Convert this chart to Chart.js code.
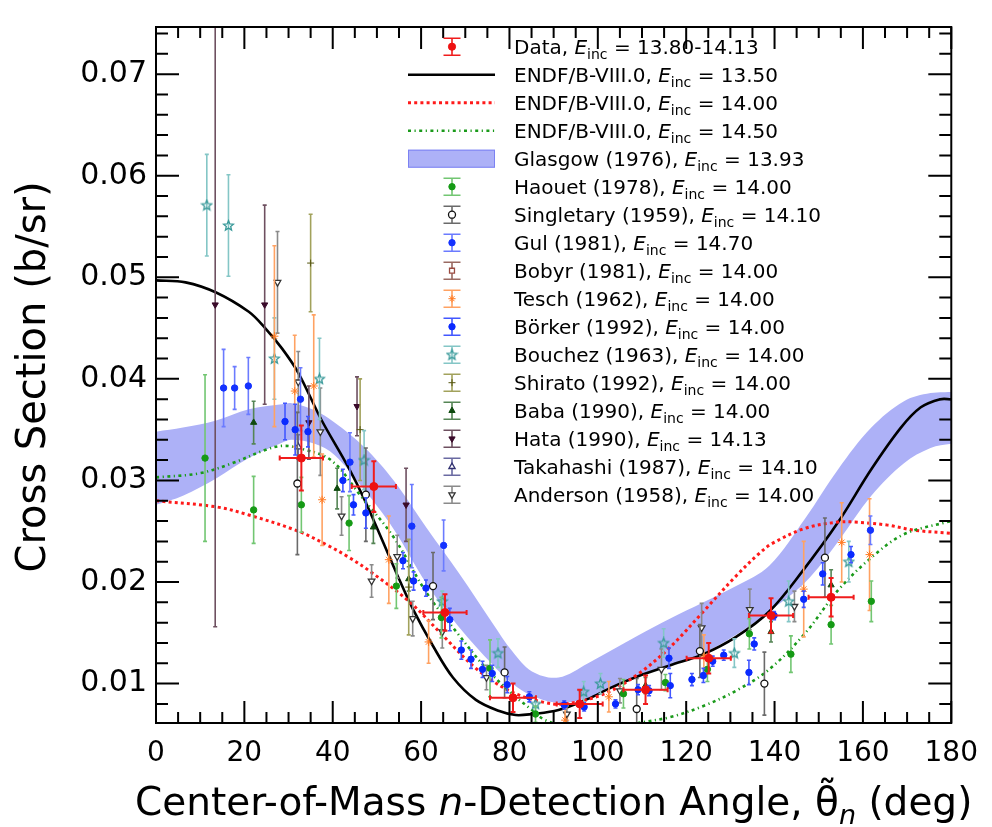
<!DOCTYPE html>
<html>
<head>
<meta charset="utf-8">
<title>n-d elastic cross section</title>
<script src="https://cdn.jsdelivr.net/npm/chart.js@4.4.0/dist/chart.umd.min.js"></script>
<style>
  html, body { margin: 0; background: #fff; }
  #wrap { position: relative; width: 992px; height: 827px; }
</style>
</head>
<body>
<div id="wrap"><canvas id="c" width="992" height="827"></canvas></div>
<script>
// axis ticks
const xTicks = [0, 20, 40, 60, 80, 100, 120, 140, 160, 180];
const yTicks = [0.01, 0.02, 0.03, 0.04, 0.05, 0.06, 0.07];

// ENDF/B-VIII.0 curves
const endf1350X = [0, 6.7, 13.6, 21, 24.7, 28.5, 32.2, 37.4, 43.4, 47.3, 54.6, 58.3, 62.7, 67.2, 72.4, 77.7, 81.4, 85.1, 91.1, 97.8, 103, 109, 116.4, 123.9, 131.3, 138.8, 146.2, 154.4, 161.9, 168.6, 173.1, 177.5, 180];
const endf1350Y = [0.0497, 0.0495, 0.0485, 0.0466, 0.0450, 0.0430, 0.0406, 0.0360, 0.0314, 0.0280, 0.0207, 0.0172, 0.0137, 0.0106, 0.0084, 0.0073, 0.0069, 0.0070, 0.0074, 0.0085, 0.0096, 0.0107, 0.0118, 0.0129, 0.0146, 0.0171, 0.0210, 0.0259, 0.0311, 0.0352, 0.0372, 0.0380, 0.0380];
const endf1400X = [0, 13.6, 21, 32.2, 38.9, 43.4, 48.6, 57.5, 65, 72.4, 79.9, 87.3, 92.6, 101.5, 109, 116.4, 123.9, 131.3, 136.5, 139.5, 147, 154.4, 158.2, 165.6, 171.6, 180];
const endf1400Y = [0.0280, 0.0274, 0.0266, 0.0250, 0.0236, 0.0225, 0.0210, 0.0180, 0.0147, 0.0115, 0.0093, 0.0082, 0.0080, 0.0090, 0.0109, 0.0136, 0.0171, 0.0206, 0.0228, 0.0238, 0.0253, 0.0259, 0.0259, 0.0256, 0.0251, 0.0248];
const endf1450X = [0, 9.8, 17.3, 24.7, 28.5, 32.2, 39.6, 46.3, 53.8, 61.3, 68.7, 74.7, 80.6, 85.1, 88.1, 95, 100, 105, 109, 116.4, 123.9, 131.3, 138.8, 147, 154.4, 161.9, 169.3, 179, 180];
const endf1450Y = [0.0303, 0.0307, 0.0317, 0.0330, 0.0334, 0.0332, 0.0320, 0.0285, 0.0244, 0.0189, 0.0147, 0.0115, 0.0090, 0.0074, 0.0064, 0.0055, 0.0054, 0.0056, 0.0061, 0.0067, 0.0078, 0.0093, 0.0114, 0.0150, 0.0192, 0.0224, 0.0247, 0.0259, 0.0260];

// Glasgow (1976) band
const bandX  = [0, 6.1, 13.6, 21, 28.5, 30.7, 35.9, 40.4, 47.1, 53.8, 61.3, 68.7, 76.1, 80.6, 85.1, 91.1, 97.8, 109, 116.4, 123.9, 131.3, 138.8, 147, 154.4, 161.9, 169.3, 175.3, 180];
const bandHi = [0.0348, 0.0352, 0.0359, 0.0370, 0.0375, 0.0376, 0.0369, 0.0357, 0.0333, 0.0300, 0.0253, 0.0208, 0.0160, 0.0132, 0.0112, 0.0106, 0.0120, 0.0147, 0.0164, 0.0180, 0.0196, 0.0216, 0.0263, 0.0311, 0.0352, 0.0378, 0.0386, 0.0387];
const bandLo = [0.0276, 0.0285, 0.0302, 0.0322, 0.0337, 0.0340, 0.0336, 0.0325, 0.0291, 0.0252, 0.0198, 0.0155, 0.0119, 0.0100, 0.0088, 0.0081, 0.0086, 0.0107, 0.0118, 0.0130, 0.0148, 0.0171, 0.0200, 0.0240, 0.0285, 0.0317, 0.0332, 0.0336];

// measurements
const dataX  = [32.9, 49.3, 65.4, 80.8, 95.9, 110.8, 125.1, 139.2, 152.8];
const dataY  = [0.0322, 0.0294, 0.0170, 0.0086, 0.0080, 0.0094, 0.0125, 0.0167, 0.0185];
const dataEY = [0.0032, 0.0025, 0.0018, 0.0014, 0.0014, 0.0014, 0.0015, 0.0017, 0.0019];
const dataEX = [4.9, 5.0, 4.9, 5.2, 5.2, 5.0, 5.0, 5.0, 5.1];

const haouetX = [11.1, 22.1, 32.9, 43.7, 54.4, 64.6, 75.6, 85.9, 105.8, 115.3, 124.8, 134.3, 143.7, 152.8, 161.9];
const haouetY = [0.0322, 0.0271, 0.0276, 0.0258, 0.0196, 0.0165, 0.0115, 0.0070, 0.0090, 0.0101, 0.0114, 0.0149, 0.0129, 0.0158, 0.0181];
const haouetE = [0.0082, 0.0033, 0.0027, 0.0027, 0.0022, 0.0020, 0.0028, 0.0008, 0.0014, 0.0008, 0.0012, 0.0015, 0.0018, 0.0019, 0.0020];

const singletaryX = [32.0, 47.5, 62.7, 78.9, 108.8, 123.1, 137.7, 151.4];
const singletaryY = [0.0297, 0.0286, 0.0196, 0.0111, 0.0075, 0.0132, 0.0100, 0.0224];
const singletaryE = [0.0070, 0.0046, 0.0033, 0.0025, 0.0030, 0.0026, 0.0031, 0.0039];

const gulX = [15.3, 17.8, 20.9, 32.7, 43.9, 57.9, 65.1, 161.7];
const gulY = [0.0391, 0.0391, 0.0393, 0.0380, 0.0318, 0.0255, 0.0236, 0.0251];
const gulE = [0.0038, 0.0021, 0.0028, 0.0031, 0.0029, 0.0041, 0.0025, 0.0014];

const bobyrX = [];
const bobyrY = [];
const bobyrE = [];

const teschX = [26.8, 31.4, 35.7, 37.6, 52.7, 61.7, 92.6, 102.5, 124.0, 146.6, 155.2, 161.5];
const teschY = [0.0442, 0.0388, 0.0393, 0.0281, 0.0222, 0.0141, 0.0064, 0.0087, 0.0127, 0.0193, 0.0239, 0.0227];
const teschE = [0.0089, 0.0055, 0.0070, 0.0045, 0.0043, 0.0021, 0.0012, 0.0015, 0.0021, 0.0047, 0.0039, 0.0055];

const borkerX = [29.2, 31.5, 34.4, 42.3, 44.7, 47.5, 55.9, 58.3, 61.1, 66.5, 69.1, 71.3, 73.9, 76.1, 79.5, 84.5, 92.4, 96.9, 104.0, 109.1, 111.6, 116.1, 116.4, 121.3, 123.9, 126.0, 128.5, 134.2, 135.4, 139.9, 146.6, 150.9, 157.3];
const borkerY = [0.0358, 0.0350, 0.0348, 0.0300, 0.0276, 0.0268, 0.0221, 0.0201, 0.0194, 0.0163, 0.0133, 0.0124, 0.0114, 0.0110, 0.0099, 0.0087, 0.0079, 0.0077, 0.0080, 0.0094, 0.0093, 0.0125, 0.0098, 0.0104, 0.0108, 0.0122, 0.0128, 0.0111, 0.0139, 0.0167, 0.0183, 0.0208, 0.0227];
const borkerE = [0.0018, 0.0025, 0.0015, 0.0011, 0.0010, 0.0015, 0.0008, 0.0009, 0.0008, 0.0011, 0.0009, 0.0009, 0.0008, 0.0008, 0.0008, 0.0005, 0.0004, 0.0004, 0.0004, 0.0005, 0.0005, 0.0010, 0.0012, 0.0006, 0.0007, 0.0005, 0.0005, 0.0012, 0.0006, 0.0004, 0.0008, 0.0011, 0.0008];

const bouchezX = [11.5, 16.4, 26.8, 37.0, 47.1, 64.8, 77.4, 85.9, 96.8, 100.6, 114.9, 130.9, 143.2, 156.8];
const bouchezY = [0.0571, 0.0551, 0.0420, 0.0400, 0.0320, 0.0181, 0.0130, 0.0080, 0.0092, 0.0100, 0.0140, 0.0130, 0.0181, 0.0220];
const bouchezE = [0.0050, 0.0050, 0.0040, 0.0040, 0.0029, 0.0010, 0.0014, 0.0007, 0.0010, 0.0010, 0.0014, 0.0014, 0.0020, 0.0020];

const shiratoX = [35.0, 46.2, 57.2];
const shiratoY = [0.0514, 0.0350, 0.0195];
const shiratoE = [0.0048, 0.0050, 0.0047];

const babaX = [22.1, 41.0, 49.2, 57.2, 110.8, 139.2, 152.8];
const babaY = [0.0357, 0.0292, 0.0254, 0.0203, 0.0098, 0.0151, 0.0197];
const babaE = [0.0021, 0.0020, 0.0016, 0.0012, 0.0008, 0.0010, 0.0015];

const hataX = [13.4, 24.6, 34.6, 45.5, 56.6];
const hataY = [0.0473, 0.0473, 0.0357, 0.0373, 0.0276];
const hataE = [0.0317, 0.0098, 0.0036, 0.0029, 0.0036];

const takahashiX = [32.2];
const takahashiY = [0.0333];
const takahashiE = [0.0012];

const andersonX = [27.5, 32.2, 37.2, 42.0, 48.8, 54.6, 58.1, 64.8, 74.8, 93.0, 105.0, 114.4, 123.5, 134.4, 144.5];
const andersonY = [0.0495, 0.0397, 0.0348, 0.0265, 0.0201, 0.0225, 0.0164, 0.0151, 0.0106, 0.0070, 0.0093, 0.0114, 0.0155, 0.0173, 0.0176];
const andersonE = [0.0050, 0.0030, 0.0043, 0.0019, 0.0016, 0.0021, 0.0017, 0.0016, 0.0012, 0.0008, 0.0012, 0.0020, 0.0024, 0.0020, 0.0015];

const FONT = "'DejaVu Sans', 'Liberation Sans', sans-serif";
const BAND_FILL = '#adb1f7';

const pts = (xs, ys, ey, ex) => xs.map((x, i) => ({ x: x, y: ys[i], ey: ey ? ey[i] : 0, ex: ex ? ex[i] : 0 }));

// open five-point star marker (Bouchez)
function openStar(color) {
  const c = document.createElement('canvas');
  c.width = 13; c.height = 13;
  const g = c.getContext('2d');
  g.strokeStyle = color; g.lineWidth = 1.3;
  g.beginPath();
  for (let k = 0; k < 10; k++) {
    const r = k % 2 ? 2.3 : 5.2;
    const a = -Math.PI / 2 + k * Math.PI / 5;
    const px = 6.5 + r * Math.cos(a), py = 6.8 + r * Math.sin(a);
    k ? g.lineTo(px, py) : g.moveTo(px, py);
  }
  g.closePath(); g.stroke();
  return c;
}

const markers = [
  { name: 'Data', e: '13.80-14.13', d: pts(dataX, dataY, dataEY, dataEX), style: 'circle', r: 4, fg: '#ee1111', bg: '#ee1111', bar: '#f01c1c', lw: 2, cap: 2.5, order: 0 },
  { name: 'Haouet (1978)', e: '14.00', d: pts(haouetX, haouetY, haouetE), style: 'circle', r: 3.2, fg: '#159a15', bg: '#159a15', bar: '#72c672', lw: 1.6, cap: 2, order: 5 },
  { name: 'Singletary (1959)', e: '14.10', d: pts(singletaryX, singletaryY, singletaryE), style: 'circle', r: 3.5, fg: '#111111', bg: '#ffffff', bar: '#6a6a6a', lw: 1.6, cap: 2, order: 4 },
  { name: 'Gul (1981)', e: '14.70', d: pts(gulX, gulY, gulE), style: 'circle', r: 3.2, fg: '#1432ff', bg: '#1432ff', bar: '#6b7bff', lw: 1.6, cap: 2, order: 3 },
  { name: 'Bobyr (1981)', e: '14.00', d: pts(bobyrX, bobyrY, bobyrE), style: 'rect', r: 3.5, fg: '#9a4a40', bg: '#ffffff', bar: '#9a6a62', lw: 1.6, cap: 2, order: 6 },
  { name: 'Tesch (1962)', e: '14.00', d: pts(teschX, teschY, teschE), style: 'star', r: 4, fg: '#ff7a22', bg: '#ff7a22', bar: '#ffa262', lw: 1.6, cap: 2, order: 7 },
  { name: 'B\u00f6rker (1992)', e: '14.00', d: pts(borkerX, borkerY, borkerE), style: 'circle', r: 3.2, fg: '#0a2aff', bg: '#0a2aff', bar: '#4257ff', lw: 1.6, cap: 2, order: 2 },
  { name: 'Bouchez (1963)', e: '14.00', d: pts(bouchezX, bouchezY, bouchezE), style: openStar('#3a9a9a'), r: 5, fg: '#3a9a9a', bg: '#3a9a9a', bar: '#84c6c6', lw: 1.6, cap: 2, order: 8 },
  { name: 'Shirato (1992)', e: '14.00', d: pts(shiratoX, shiratoY, shiratoE), style: 'cross', r: 3.5, fg: '#555510', bg: '#555510', bar: '#a2a25c', lw: 1.6, cap: 2, order: 9 },
  { name: 'Baba (1990)', e: '14.00', d: pts(babaX, babaY, babaE), style: 'triangle', r: 3.6, fg: '#0f4a0f', bg: '#0f4a0f', bar: '#558555', lw: 1.6, cap: 2, order: 10 },
  { name: 'Hata (1990)', e: '14.13', d: pts(hataX, hataY, hataE), style: 'triangle', rot: 180, r: 3.6, fg: '#3a0a2a', bg: '#3a0a2a', bar: '#6e5060', lw: 1.6, cap: 2, order: 11 },
  { name: 'Takahashi (1987)', e: '14.10', d: pts(takahashiX, takahashiY, takahashiE), style: 'triangle', r: 3.8, fg: '#303070', bg: '#ffffff', bar: '#6a6aa2', lw: 1.6, cap: 2, order: 12 },
  { name: 'Anderson (1958)', e: '14.00', d: pts(andersonX, andersonY, andersonE), style: 'triangle', rot: 180, r: 3.8, fg: '#333333', bg: '#ffffff', bar: '#8a8a8a', lw: 1.6, cap: 2, order: 13 }
];

const curves = [
  { name: 'ENDF/B-VIII.0', e: '13.50', d: pts(endf1350X, endf1350Y), color: '#000000', width: 2.6, dash: [] },
  { name: 'ENDF/B-VIII.0', e: '14.00', d: pts(endf1400X, endf1400Y), color: '#ff1a1a', width: 3, dash: [3, 3.2] },
  { name: 'ENDF/B-VIII.0', e: '14.50', d: pts(endf1450X, endf1450Y), color: '#1a9a1a', width: 2.6, dash: [3, 3.5, 1.2, 3.5] }
];

const legendItems = [
  { kind: 'marker', s: markers[0] },
  { kind: 'line', s: curves[0] },
  { kind: 'line', s: curves[1] },
  { kind: 'line', s: curves[2] },
  { kind: 'band', s: { name: 'Glasgow (1976)', e: '13.93' } }
].concat(markers.slice(1).map(m => ({ kind: 'marker', s: m })));

const TENSION = 0.35;
const datasets = [
  { data: pts(bandX, bandLo), showLine: true, pointRadius: 0, borderWidth: 0, borderColor: 'rgba(0,0,0,0)', fill: false, tension: TENSION, order: 31 },
  { data: pts(bandX, bandHi), showLine: true, pointRadius: 0, borderWidth: 0, borderColor: 'rgba(0,0,0,0)', backgroundColor: BAND_FILL, fill: { target: 0 }, tension: TENSION, order: 30 }
];
curves.forEach((c, i) => datasets.push({
  data: c.d, showLine: true, pointRadius: 0, borderColor: c.color, borderWidth: c.width,
  borderDash: c.dash, borderCapStyle: 'butt', fill: false, tension: TENSION, order: 22 - i
}));
markers.forEach(m => datasets.push({
  data: m.d, showLine: false, pointStyle: m.style, pointRadius: m.r, pointRotation: m.rot || 0,
  pointBackgroundColor: m.bg, pointBorderColor: m.fg, pointBorderWidth: m.bg === '#ffffff' ? 1.3 : 1,
  bar: m.bar, barWidth: m.lw, cap: m.cap, order: m.order
}));

const errorBars = {
  id: 'errorBars',
  beforeDatasetDraw(chart, args) {
    const ds = chart.data.datasets[args.index];
    if (!ds.bar) return;
    const { ctx, chartArea: a, scales: { x, y } } = chart;
    ctx.save();
    ctx.beginPath();
    ctx.rect(a.left, a.top, a.right - a.left, a.bottom - a.top);
    ctx.clip();
    ctx.strokeStyle = ds.bar;
    ctx.lineWidth = ds.barWidth;
    ds.data.forEach(p => {
      const px = x.getPixelForValue(p.x), py = y.getPixelForValue(p.y);
      const y1 = y.getPixelForValue(p.y + p.ey), y2 = y.getPixelForValue(p.y - p.ey);
      ctx.beginPath();
      ctx.moveTo(px, y1); ctx.lineTo(px, y2);
      ctx.moveTo(px - ds.cap, y1); ctx.lineTo(px + ds.cap, y1);
      ctx.moveTo(px - ds.cap, y2); ctx.lineTo(px + ds.cap, y2);
      if (p.ex) {
        const x1 = x.getPixelForValue(p.x - p.ex), x2 = x.getPixelForValue(p.x + p.ex);
        ctx.moveTo(x1, py); ctx.lineTo(x2, py);
        ctx.moveTo(x1, py - ds.cap); ctx.lineTo(x1, py + ds.cap);
        ctx.moveTo(x2, py - ds.cap); ctx.lineTo(x2, py + ds.cap);
      }
      ctx.stroke();
    });
    ctx.restore();
  }
};

// frame with inward ticks on all four sides
const frame = {
  id: 'frame',
  afterDatasetsDraw(chart) {
    const { ctx, chartArea: a, scales: { x, y } } = chart;
    ctx.save();
    ctx.strokeStyle = '#000';
    ctx.lineWidth = 2;
    ctx.beginPath();
    for (let d = 0; d <= 180; d += 5) {
      const px = x.getPixelForValue(d);
      const len = d % 20 === 0 ? 22 : 11;
      ctx.moveTo(px, a.bottom); ctx.lineTo(px, a.bottom - len);
      ctx.moveTo(px, a.top); ctx.lineTo(px, a.top + len);
    }
    for (let k = 4; k <= 37; k++) {
      const v = k * 0.002;
      if (v < y.min || v > y.max) continue;
      const py = y.getPixelForValue(v);
      const len = k % 5 === 0 ? 23 : 12;
      ctx.moveTo(a.left, py); ctx.lineTo(a.left + len, py);
      ctx.moveTo(a.right, py); ctx.lineTo(a.right - len, py);
    }
    ctx.stroke();
    ctx.strokeRect(a.left, a.top, a.right - a.left, a.bottom - a.top);
    ctx.restore();
  }
};

function richText(ctx, x, y, parts, align) {
  let w = 0;
  parts.forEach(p => { ctx.font = p.font; p.w = ctx.measureText(p.t).width; w += p.w; });
  let cx = align === 'center' ? x - w / 2 : x;
  parts.forEach(p => {
    ctx.font = p.font;
    ctx.fillText(p.t, cx, y + (p.dy || 0));
    cx += p.w;
  });
}

function energyParts(name, e, size) {
  return [
    { t: name + ', ', font: size + 'px ' + FONT },
    { t: 'E', font: 'italic ' + size + 'px ' + FONT },
    { t: 'inc', font: Math.round(size * 0.7) + 'px ' + FONT, dy: 5 },
    { t: ' = ' + e, font: size + 'px ' + FONT }
  ];
}

const annotations = {
  id: 'annotations',
  afterDraw(chart) {
    const { ctx, chartArea: a } = chart;
    ctx.save();
    ctx.fillStyle = '#000';
    ctx.textBaseline = 'alphabetic';
    ctx.textAlign = 'left';

    // legend
    const lx0 = 408, lx1 = 495, lxm = 452, ltx = 514, ly0 = 46.7, ldy = 28;
    legendItems.forEach((it, i) => {
      const cy = ly0 + i * ldy;
      const s = it.s;
      if (it.kind === 'line') {
        ctx.save();
        ctx.strokeStyle = s.color; ctx.lineWidth = s.width; ctx.setLineDash(s.dash); ctx.lineCap = 'butt';
        ctx.beginPath(); ctx.moveTo(lx0, cy); ctx.lineTo(lx1, cy); ctx.stroke();
        ctx.restore();
      } else if (it.kind === 'band') {
        ctx.fillStyle = BAND_FILL;
        ctx.fillRect(lx0, cy - 9, lx1 - lx0, 18);
        ctx.strokeStyle = '#7c82f2'; ctx.lineWidth = 1;
        ctx.strokeRect(lx0 + 0.5, cy - 8.5, lx1 - lx0 - 1, 17);
      } else {
        ctx.strokeStyle = s.bar; ctx.lineWidth = 1.6;
        ctx.beginPath();
        ctx.moveTo(lxm, cy - 8.5); ctx.lineTo(lxm, cy + 8.5);
        ctx.moveTo(lxm - 8.5, cy - 8.5); ctx.lineTo(lxm + 8.5, cy - 8.5);
        ctx.moveTo(lxm - 8.5, cy + 8.5); ctx.lineTo(lxm + 8.5, cy + 8.5);
        ctx.stroke();
        ctx.fillStyle = s.bg; ctx.strokeStyle = s.fg; ctx.lineWidth = s.bg === '#ffffff' ? 1.3 : 1;
        Chart.helpers.drawPoint(ctx, { pointStyle: s.style, radius: Math.min(s.r, 3.6), rotation: s.rot || 0, borderWidth: ctx.lineWidth }, lxm, cy);
      }
      ctx.fillStyle = '#000';
      richText(ctx, ltx, cy + 7.3, energyParts(s.name, s.e, 20));
    });

    // x-axis title
    const cxm = (a.left + a.right) / 2;
    const fs = 39;
    richText(ctx, cxm, 815, [
      { t: 'Center-of-Mass ', font: fs + 'px ' + FONT },
      { t: 'n', font: 'italic ' + fs + 'px ' + FONT },
      { t: '-Detection Angle, ', font: fs + 'px ' + FONT },
      { t: '\u03b8\u0303', font: fs + 'px ' + FONT },
      { t: 'n', font: 'italic ' + Math.round(fs * 0.7) + 'px ' + FONT, dy: 9 },
      { t: ' (deg)', font: fs + 'px ' + FONT }
    ], 'center');

    // y-axis title
    ctx.translate(45, (a.top + a.bottom) / 2 + 2);
    ctx.rotate(-Math.PI / 2);
    ctx.textAlign = 'center';
    ctx.font = '40px ' + FONT;
    ctx.fillText('Cross Section (b/sr)', 0, 0);
    ctx.restore();
  }
};

new Chart(document.getElementById('c'), {
  type: 'scatter',
  data: { datasets: datasets },
  options: {
    responsive: false,
    animation: false,
    devicePixelRatio: 1,
    events: [],
    layout: { padding: { top: 10, right: 31, left: 0, bottom: 0 } },
    plugins: { legend: { display: false }, tooltip: { enabled: false } },
    scales: {
      x: {
        type: 'linear', min: 0, max: 180,
        grid: { display: false, drawTicks: false },
        border: { display: false },
        afterBuildTicks: s => { s.ticks = xTicks.map(v => ({ value: v })); },
        afterFit: s => { s.height = 104; },
        ticks: { color: '#000', font: { family: FONT, size: 28 }, padding: 14, maxRotation: 0, autoSkip: false }
      },
      y: {
        type: 'linear', min: 0.00612, max: 0.07464,
        grid: { display: false, drawTicks: false },
        border: { display: false },
        afterBuildTicks: s => { s.ticks = yTicks.map(v => ({ value: v })); },
        afterFit: s => { s.width = 156; },
        ticks: { color: '#000', font: { family: FONT, size: 30 }, padding: 9, autoSkip: false, callback: v => v.toFixed(2) }
      }
    }
  },
  plugins: [errorBars, frame, annotations]
});
</script>
</body>
</html>
